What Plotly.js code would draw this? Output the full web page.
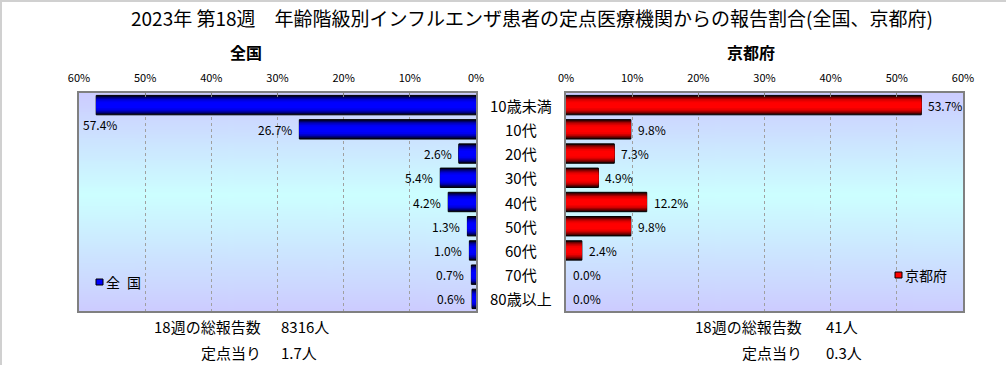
<!DOCTYPE html>
<html>
<head>
<meta charset="utf-8">
<script src="https://cdn.plot.ly/plotly-3.0.1.min.js"></script>
<style>
html,body{margin:0;padding:0;background:#fff;}
#wrap{position:relative;width:1006px;height:365px;overflow:hidden;}
#frame{position:absolute;left:0;top:0;width:1006px;height:365px;box-sizing:border-box;border-left:2px solid #d0d0d0;border-top:2px solid #d0d0d0;pointer-events:none;}
#chart{width:1006px;height:365px;}
</style>
</head>
<body>
<div id="wrap"><div id="chart"></div><div id="frame"></div></div>
<script>
// ---- data ----
const categories = ['10歳未満','10代','20代','30代','40代','50代','60代','70代','80歳以上'];
const nationalValues = [57.4, 26.7, 2.6, 5.4, 4.2, 1.3, 1.0, 0.7, 0.6];
const kyotoValues = [53.7, 9.8, 7.3, 4.9, 12.2, 9.8, 2.4, 0.0, 0.0];
const xTickValues = [0, 10, 20, 30, 40, 50, 60];
const xTickLabels = ['0%', '10%', '20%', '30%', '40%', '50%', '60%'];
const titleText = '2023年 第18週　年齢階級別インフルエンザ患者の定点医療機関からの報告割合(全国、京都府)';
const panelTitles = ['全国', '京都府'];
const legendNames = ['全\u2002国', '京都府'];
const summaryLabels = ['18週の総報告数', '定点当り'];
const nationalSummary = ['8316人', '1.7人'];
const kyotoSummary = ['41人', '0.3人'];

// ---- layout geometry (pixels) ----
const W = 1006, H = 365;
const px = v => v / W, py = v => (H - v) / H;
const leftDom = [px(79), px(476)];
const rightDom = [px(566), px(963)];
const yDom = [py(311), py(93)];
const FONT = '"Noto Sans CJK JP", "Noto Sans", sans-serif';

// background gradient image
const cv = document.createElement('canvas');
cv.width = 4; cv.height = 200;
const ctx = cv.getContext('2d');
const g = ctx.createLinearGradient(0, 0, 0, 200);
g.addColorStop(0, '#ccccff');
g.addColorStop(0.47, '#ccffff');
g.addColorStop(1, '#ccccff');
ctx.fillStyle = g; ctx.fillRect(0, 0, 4, 200);
const bgURL = cv.toDataURL();

// bar gradient layers
const widths = [0.8, 0.7, 0.6, 0.5, 0.38, 0.24];
const blues = ['#00002a', '#000068', '#0000a0', '#0000d0', '#0000f0', '#0000ff'];
const reds = ['#2a0000', '#680000', '#a00000', '#d00000', '#f00000', '#ff0000'];

const traces = [];
function addSeries(vals, colors, xa, ya) {
  widths.forEach((w, i) => {
    traces.push({
      type: 'bar', orientation: 'h', x: vals, y: categories,
      xaxis: xa, yaxis: ya, width: w,
      marker: {color: colors[i], line: {width: i === 0 ? vals.map(v => v > 0 ? 1 : 0) : 0, color: '#000000'}},
      hoverinfo: 'skip', showlegend: false
    });
  });
}
addSeries(nationalValues, blues, 'x', 'y');
addSeries(kyotoValues, reds, 'x2', 'y2');

const annotations = [];
const labelFont = {family: FONT, size: 12, color: '#000'};
nationalValues.forEach((v, i) => {
  const wrap = v > 50;
  annotations.push({
    xref: 'x', yref: 'y', x: v, y: categories[i], text: v.toFixed(1) + '%',
    showarrow: false, font: labelFont,
    xanchor: wrap ? 'center' : 'right', xshift: wrap ? 4 : -5, yshift: wrap ? -19 : 0
  });
});
kyotoValues.forEach((v, i) => {
  annotations.push({
    xref: 'x2', yref: 'y2', x: v, y: categories[i], text: v.toFixed(1) + '%',
    showarrow: false, font: labelFont, xanchor: 'left', xshift: 5
  });
});
categories.forEach(c => {
  annotations.push({
    xref: 'paper', yref: 'y2', x: px(521), y: c, text: c, showarrow: false,
    xanchor: 'center', font: {family: FONT, size: 15, color: '#000'}
  });
});
annotations.push({xref: 'paper', yref: 'paper', x: px(532), y: py(17), text: titleText,
  showarrow: false, xanchor: 'center', yanchor: 'middle', font: {family: FONT, size: 19, color: '#000'}});
annotations.push({xref: 'paper', yref: 'paper', x: px(246), y: py(52), text: '<b>' + panelTitles[0] + '</b>',
  showarrow: false, xanchor: 'center', yanchor: 'middle', font: {family: FONT, size: 16, color: '#000'}});
annotations.push({xref: 'paper', yref: 'paper', x: px(751), y: py(52), text: '<b>' + panelTitles[1] + '</b>',
  showarrow: false, xanchor: 'center', yanchor: 'middle', font: {family: FONT, size: 16, color: '#000'}});
// legends
annotations.push({xref: 'paper', yref: 'paper', x: px(104), y: py(282), text: legendNames[0],
  showarrow: false, xanchor: 'left', yanchor: 'middle', font: {family: FONT, size: 14, color: '#000'}});
annotations.push({xref: 'paper', yref: 'paper', x: px(903), y: py(275), text: legendNames[1],
  showarrow: false, xanchor: 'left', yanchor: 'middle', font: {family: FONT, size: 14, color: '#000'}});
// summary texts
const sumFont = {family: FONT, size: 15, color: '#000'};
const rowsY = [326, 352];
summaryLabels.forEach((s, i) => {
  annotations.push({xref: 'paper', yref: 'paper', x: px(263), y: py(rowsY[i]), text: s,
    showarrow: false, xanchor: 'right', yanchor: 'middle', font: sumFont});
  annotations.push({xref: 'paper', yref: 'paper', x: px(279), y: py(rowsY[i]), text: nationalSummary[i],
    showarrow: false, xanchor: 'left', yanchor: 'middle', font: sumFont});
  annotations.push({xref: 'paper', yref: 'paper', x: px(804), y: py(rowsY[i]), text: s,
    showarrow: false, xanchor: 'right', yanchor: 'middle', font: sumFont});
  annotations.push({xref: 'paper', yref: 'paper', x: px(824), y: py(rowsY[i]), text: kyotoSummary[i],
    showarrow: false, xanchor: 'left', yanchor: 'middle', font: sumFont});
});

const shapes = [
  {type: 'rect', xref: 'paper', yref: 'paper', x0: px(96), x1: px(103), y0: py(285), y1: py(279),
    fillcolor: '#0000ff', line: {color: '#000', width: 1}},
  {type: 'rect', xref: 'paper', yref: 'paper', x0: px(895), x1: px(902), y0: py(278), y1: py(272),
    fillcolor: '#ff0000', line: {color: '#000', width: 1}}
];

const axisCommon = {
  tickvals: xTickValues, ticktext: xTickLabels, side: 'top',
  showgrid: true, gridcolor: '#a0a0a0', griddash: 'dot', gridwidth: 1,
  showline: true, mirror: true, linecolor: '#808080', linewidth: 2,
  ticks: 'inside', ticklen: 4, tickcolor: '#808080',
  zeroline: false, fixedrange: true, ticklabelstandoff: 5,
  tickfont: {family: FONT, size: 11, color: '#000'}
};
const yCommon = {
  type: 'category', autorange: false, range: [categories.length - 0.5, -0.5],
  categoryorder: 'array', categoryarray: categories, showticklabels: false,
  showline: true, mirror: true, linecolor: '#808080', linewidth: 2,
  ticks: '', showgrid: false, zeroline: false, fixedrange: true, domain: yDom
};

const layout = {
  width: W, height: H, margin: {l: 0, r: 0, t: 0, b: 0},
  paper_bgcolor: '#ffffff', plot_bgcolor: 'rgba(0,0,0,0)',
  barmode: 'overlay', showlegend: false,
  xaxis: Object.assign({}, axisCommon, {domain: leftDom, range: [60, 0], anchor: 'y'}),
  yaxis: Object.assign({}, yCommon, {anchor: 'x'}),
  xaxis2: Object.assign({}, axisCommon, {domain: rightDom, range: [0, 60], anchor: 'y2'}),
  yaxis2: Object.assign({}, yCommon, {anchor: 'x2'}),
  images: [leftDom, rightDom].map(d => ({
    source: bgURL, xref: 'paper', yref: 'paper', x: d[0], y: yDom[1],
    sizex: d[1] - d[0], sizey: yDom[1] - yDom[0], sizing: 'stretch',
    xanchor: 'left', yanchor: 'top', layer: 'below'
  })),
  annotations: annotations, shapes: shapes,
  font: {family: FONT}
};

Plotly.newPlot('chart', traces, layout, {staticPlot: true, displayModeBar: false});
</script>
</body>
</html>
